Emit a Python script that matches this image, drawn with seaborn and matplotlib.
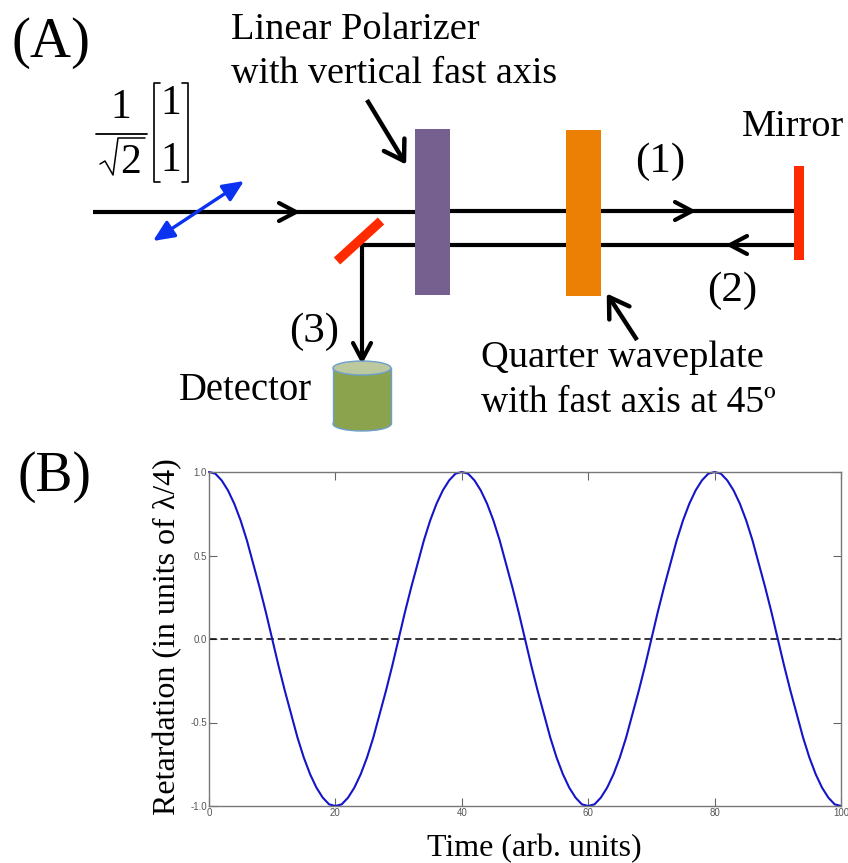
import matplotlib
matplotlib.use("Agg")
import matplotlib.pyplot as plt
from matplotlib.patches import Rectangle, Ellipse
import numpy as np
import pandas as pd
import seaborn as sns

# ---- curve (one value per time unit)
time_units = list(range(0, 101))
retardation = [
    1.00, .99, .95, .89, .81, .71, .59, .45, .31, .16, 0.0, -.16, -.31, -.45, -.59, -.71, -.81, -.89, -.95, -.99,
    -1.00, -.99, -.95, -.89, -.81, -.71, -.59, -.45, -.31, -.16, 0.0, .16, .31, .45, .59, .71, .81, .89, .95, .99,
    1.00, .99, .95, .89, .81, .71, .59, .45, .31, .16, 0.0, -.16, -.31, -.45, -.59, -.71, -.81, -.89, -.95, -.99,
    -1.00, -.99, -.95, -.89, -.81, -.71, -.59, -.45, -.31, -.16, 0.0, .16, .31, .45, .59, .71, .81, .89, .95, .99,
    1.00, .99, .95, .89, .81, .71, .59, .45, .31, .16, 0.0, -.16, -.31, -.45, -.59, -.71, -.81, -.89, -.95, -.99,
    -1.00,
]
x_ticks = [0, 20, 40, 60, 80, 100]
y_ticks = [-1.0, -0.5, 0.0, 0.5, 1.0]
y_tick_labels = ["-1.0", "-0.5", "0.0", "0.5", "1.0"]

W, H = 848, 863
SERIF = "Liberation Serif"
sns.set_theme(style="white")
plt.rcParams["font.family"] = [SERIF, "DejaVu Sans"]
plt.rcParams["mathtext.fontset"] = "stix"

fig = plt.figure(figsize=(W / 100, H / 100), dpi=100, facecolor="white")

# ---- panel B
ax = fig.add_axes([209 / W, 1 - 806 / H, 632 / W, 334 / H])
df = pd.DataFrame({"t": time_units, "r": retardation})
sns.lineplot(data=df, x="t", y="r", ax=ax, color="#1414c8", linewidth=1.5, errorbar=None, clip_on=False)
ax.axhline(0, color="black", lw=1.1, dashes=(5, 2.5), zorder=1)
ax.set_xlim(0, 100)
ax.set_ylim(-1, 1)
ax.set_xticks(x_ticks)
ax.set_yticks(y_ticks)
ax.set_yticklabels(y_tick_labels)
ax.tick_params(direction="in", length=6, width=0.8, color="#666666", top=True, right=True,
               bottom=True, left=True, labelsize=7, labelcolor="#555555", pad=1.5)
for lab in ax.get_xticklabels() + ax.get_yticklabels():
    lab.set_fontfamily("Liberation Sans")
for s in ax.spines.values():
    s.set_color("#777777")
    s.set_linewidth(1.0)
ax.set_xlabel("")
ax.set_ylabel("")

# ---- diagram overlay in pixel coordinates
ov = fig.add_axes([0, 0, 1, 1], facecolor="none")
ov.set_xlim(0, W)
ov.set_ylim(H, 0)
ov.axis("off")

# beams
beam_lines = [((93, 415), (212, 212)), ((450, 794), (211, 211)), ((362, 794), (245, 245)), ((362, 362), (245, 358))]
for xs, ys in beam_lines:
    ov.plot(xs, ys, color="black", lw=3.0, solid_capstyle="butt", zorder=2)

# chevrons
chevrons = [(296, 212, 1, 0), (692, 211, 1, 0), (730, 245, -1, 0), (362, 360, 0, 1)]
for cx, cy, dx, dy in chevrons:
    px, py = -dy, dx
    for s in (1, -1):
        ov.plot([cx - 17 * dx + s * 9 * px, cx], [cy - 17 * dy + s * 9 * py, cy],
                color="black", lw=3.0, solid_capstyle="round", zorder=3)

# plates
ov.add_patch(Rectangle((415, 129), 35, 166, color="#75608f", lw=0, zorder=4))
ov.add_patch(Rectangle((566, 130), 35, 166, color="#ec8004", lw=0, zorder=4))
ov.add_patch(Rectangle((794, 166), 10, 94, color="#ff2a00", lw=0, zorder=4))
ov.plot([337, 381], [261, 221], color="#ff2a00", lw=6.8, solid_capstyle="butt", zorder=4)

# blue polarisation arrow
ov.annotate("", xy=(244, 181), xytext=(153, 241), zorder=5,
            arrowprops=dict(arrowstyle="<|-|>,head_length=0.85,head_width=0.38", mutation_scale=15,
                            color="#0a32f0", lw=2.4, shrinkA=0, shrinkB=0))

# pointer arrows
for tip, tail in [((404, 161), (367, 100)), ((609, 297), (637, 340))]:
    ov.plot([tail[0], tip[0]], [tail[1], tip[1]], color="black", lw=3.2, solid_capstyle="butt", zorder=5)
    v = np.array([tail[0] - tip[0], tail[1] - tip[1]], float)
    v /= np.hypot(*v)
    n = np.array([-v[1], v[0]])
    for s in (1, -1):
        e = np.array(tip) + 19 * v + s * 12 * n
        ov.plot([e[0], tip[0]], [e[1], tip[1]], color="black", lw=3.2, solid_capstyle="round", zorder=5)

# detector
det_edge = "#6e9fce"
ov.add_patch(Ellipse((362, 424), 58, 14, fc="#8ba34c", ec=det_edge, lw=1, zorder=2))
ov.add_patch(Rectangle((333, 368), 58, 56, fc="#8ba34c", ec="none", zorder=2))
ov.plot([333, 333], [368, 424], color=det_edge, lw=1, zorder=2)
ov.plot([391, 391], [368, 424], color=det_edge, lw=1, zorder=2)
ov.add_patch(Ellipse((362, 368), 58, 14, fc="#bcc89e", ec=det_edge, lw=1, zorder=3))

# text
labels = [
    ("(A)", 12, 57, 41, "left"), ("(B)", 18, 491, 40, "left"),
    ("Linear Polarizer", 231, 39, 27.6, "left"),
    ("with vertical fast axis", 231, 83, 27.4, "left"),
    ("Mirror", 742, 136, 27.6, "left"),
    ("(1)", 635, 172, 31, "left"), ("(2)", 707, 301, 31, "left"), ("(3)", 289, 342, 31, "left"),
    ("Detector", 179, 400, 27.8, "left"),
    ("Quarter waveplate", 481, 367, 27.6, "left"),
    ("with fast axis at 45º", 481, 412, 27.0, "left"),
    ("1", 121, 118, 30, "center"), ("2", 130, 173, 30, "center"),
    ("1", 171, 114, 30, "center"), ("1", 171, 171, 30, "center"),
    ("Time (arb. units)", 534, 856, 23, "center"),
]
for s, x, y, fs, ha in labels:
    ov.text(x, y, s, fontsize=fs, ha=ha, va="baseline", color="black", zorder=6)
ov.text(175, 637, "Retardation (in units of λ/4)", rotation=90, rotation_mode="anchor", fontsize=23,
        ha="center", va="baseline", color="black", zorder=6)

# fraction and brackets
ov.plot([96, 147], [134, 134], color="black", lw=1.3, zorder=6)
ov.plot([100, 105, 113, 118, 145], [164, 161, 175, 138, 138], color="black", lw=1.1, zorder=6)
for xs in ([160, 154, 154, 160], [182, 188, 188, 182]):
    ov.plot(xs, [83, 83, 182, 182], color="black", lw=1.2, zorder=6)

fig.savefig("out.png", dpi=100, facecolor="white")
